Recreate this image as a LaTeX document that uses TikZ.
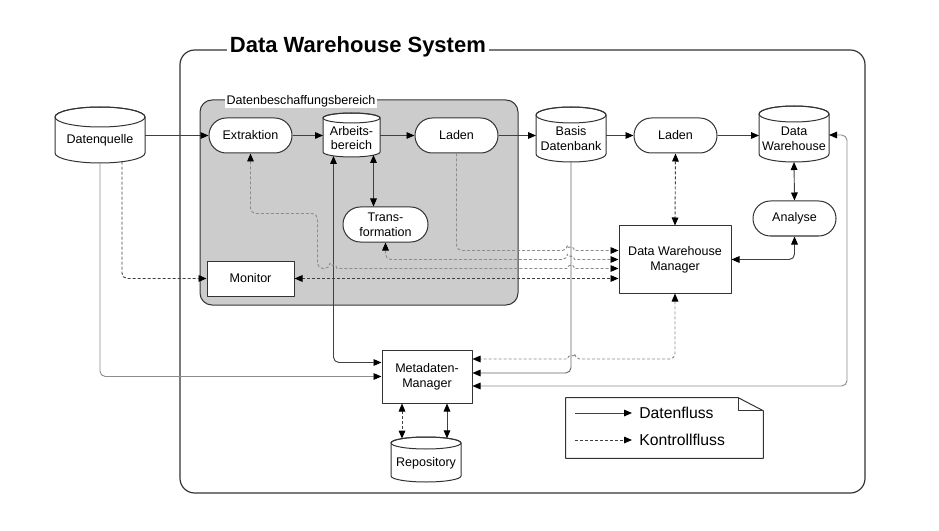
\documentclass[tikz,border=0pt]{standalone}
\usepackage{fontspec}
\setmainfont{Liberation Sans}
\usetikzlibrary{arrows.meta,calc}
\newcommand\ntext{\fontsize{9.4pt}{11pt}\selectfont}
\newcommand\ltext{\fontsize{11.8pt}{13pt}\selectfont}
\tikzset{
 nline/.style={draw=black!80, line width=0.75pt},
 pill/.style={nline, fill=white, rounded corners=13pt, minimum width=62.25pt, minimum height=26.25pt, inner sep=0pt, align=center, font=\ntext},
 box/.style={nline, fill=white, inner sep=0pt, align=center, font=\ntext},
 ctext/.style={inner sep=0pt, align=center, font=\ntext},
 dline/.style={draw=black!75, line width=0.7pt},
 mline/.style={draw=black!60, line width=0.7pt},
 lline/.style={draw=black!45, line width=0.7pt},
 ctl/.style={dash pattern=on 2.25pt off 1.5pt},
}
\newcommand\cylnode[7]{%
 \coordinate (#1-c) at (#2);
 \draw[nline,fill=white] ($(#1-c)+(-#3,#4+#6)$) -- ($(#1-c)+(-#3,#5-#6)$) arc[start angle=180,end angle=0,x radius=#3,y radius=#6] -- ($(#1-c)+(#3,#4+#6)$) arc[start angle=0,end angle=-180,x radius=#3,y radius=#6] -- cycle;
 \draw[nline] ($(#1-c)+(0,#4+#6)$) ellipse[x radius=#3,y radius=#6];
 \coordinate (#1-n) at ($(#1-c)+(0,#4)$);
 \coordinate (#1-s) at ($(#1-c)+(0,#5)$);
 \coordinate (#1-w) at ($(#1-c)+(-#3,0)$);
 \coordinate (#1-e) at ($(#1-c)+(#3,0)$);
 \node[ctext] (#1) at (#1-c) {#7};
}
\begin{document}
\begin{tikzpicture}[x=0.75pt,y=-0.75pt,>={Triangle[length=6pt,width=5pt,color=black]},line join=round]
\useasboundingbox (0,0) rectangle (939,531);
% system frame
\draw[nline, line width=0.9pt, rounded corners=11pt] (180,50) rectangle (865,493);
\node[fill=white, inner xsep=2pt, inner ysep=1pt, anchor=west, font=\fontsize{16.5pt}{18pt}\selectfont\bfseries] (title) at (227,47) {Data Warehouse System};
% acquisition area
\draw[nline, fill=black!20, rounded corners=9pt] (200,100) rectangle (518,305);
\node[fill=white, inner sep=1pt, anchor=west, font=\ntext] (glabel) at (225,101) {Datenbeschaffungsbereich};
% nodes
\cylnode{dq}{100,140}{45}{-33}{23}{10}{Datenquelle}
\node[pill] (ex) at (250.5,135.5) {Extraktion};
\cylnode{ab}{351.5,138}{28.5}{-25}{19}{5}{Arbeits-\\bereich}
\node[pill] (la) at (456.5,135.5) {Laden};
\cylnode{bd}{571,138.5}{35}{-31.5}{23.5}{8}{Basis\\Datenbank}
\node[pill] (lb) at (675.5,135.5) {Laden};
\cylnode{dw}{794,139}{35}{-33}{23}{8}{Data\\Warehouse}
\node[pill] (an) at (794.5,218.5) {Analyse};
\node[pill, minimum width=63.75pt] (tr) at (385.5,224.5) {Trans-\\formation};
\node[box, minimum width=84pt, minimum height=50.25pt] (dm) at (675,259.5) {Data Warehouse\\Manager};
\node[box, minimum width=65.25pt, minimum height=26.25pt] (mo) at (250.5,278.5) {Monitor};
\node[box, minimum width=67.5pt, minimum height=39.75pt] (mm) at (427,376.5) {Metadaten-\\Manager};
\cylnode{rp}{426,463}{35}{-26}{19}{6}{Repository}
% levels at the manager
\coordinate (y1) at ($(dm.west)+(0,-9)$);
\coordinate (y2) at (dm.west);
\coordinate (y3) at ($(dm.west)+(0,9)$);
% main data flow
\draw[dline,->] (ex.west -| dq-e) -- (ex.west);
\draw[dline,->] (ex.east) -- (ex.east -| ab-w);
\draw[dline,->] (la.west -| ab-e) -- (la.west);
\draw[dline,->] (la.east) -- (la.east -| bd-w);
\draw[dline,->] (lb.west -| bd-e) -- (lb.west);
\draw[dline,->] (lb.east) -- (lb.east -| dw-w);
\coordinate (abt) at ($(ab-s)+(22,-2)$);
\draw[dline,<->] (abt) -- (tr.north -| abt);
\draw[dline,<->] (dw-s) -- (an.north);
\draw[dline,ctl,<->] (lb.south) -- (dm.north);
\draw[dline,<->,rounded corners=4pt] (an.south) |- (dm.east);
% source connections
\coordinate (dqd) at ($(dq-s)+(22,-1.3)$);
\draw[dline,ctl,->,rounded corners=4pt] (dqd) |- (mo.west);
\draw[lline,->,rounded corners=4pt] (dq-s) |- (mm.west);
\coordinate (abm) at ($(ab-s)+(-18,-1)$);
\draw[dline,<->,rounded corners=4pt] (abm) |- ($(mm.west)+(0,-14)$);
\draw[dline,ctl,<->] (mo.east) -- (mo.east -| dm.west);
% control flows with hops
\draw[lline,ctl,->,rounded corners=4pt] (la.south) |- ($(y1 -| bd-s)+(-3.5,0)$) [sharp corners] arc[start angle=180,end angle=360,radius=3.5] -- (y1);
\draw[lline,ctl,<->,rounded corners=4pt] (tr.south) |- ($(y2 -| bd-s)+(-3.5,0)$) [sharp corners] arc[start angle=180,end angle=360,radius=3.5] -- (y2);
\draw[lline,ctl,<->,rounded corners=4pt] (ex.south) |- ($(ex.south)+(67,60)$) |- ($(y3 -| abm)+(-3.5,0)$) [sharp corners] arc[start angle=180,end angle=360,radius=3.5] -- ($(y3 -| bd-s)+(-3.5,0)$) arc[start angle=180,end angle=360,radius=3.5] -- (y3);
\coordinate (ymm) at ($(mm.east)+(0,-17.5)$);
\draw[lline,ctl,<->,rounded corners=4pt] (dm.south) |- ($(ymm -| bd-s)+(3.5,0)$) [sharp corners] arc[start angle=0,end angle=-180,radius=3.5] -- (ymm);
\draw[mline,->,rounded corners=4pt] (bd-s) |- ($(mm.east)+(0,-3.5)$);
\coordinate (dwe) at ($(dw-e)+(0,-4)$);
\draw[lline,<->,rounded corners=4pt] ($(mm.east)+(0,9.5)$) -| ($(dwe)+(18,0)$) -- (dwe);
% repository
\coordinate (rpd) at ($(mm.south)+(-25,0)$);
\draw[dline,ctl,<->] (rpd) -- ($(rpd |- rp-n)+(0,1.6)$);
\coordinate (rps) at ($(mm.south)+(20,0)$);
\draw[dline,<->] (rps) -- ($(rps |- rp-n)+(0,1.3)$);
% legend
\node[inner sep=0pt, minimum width=147.75pt, minimum height=45pt] (lg) at (664.5,428) {};
\draw[nline, fill=white] (lg.south west) -- (lg.north west) -- ($(lg.north east)+(-25,0)$) -- ($(lg.north east)+(0,13)$) -- (lg.south east) -- cycle;
\draw[nline] ($(lg.north east)+(-25,0)$) |- ($(lg.north east)+(0,13)$);
\coordinate (la1) at (575,413);
\coordinate (lb1) at (632,413);
\draw[dline,->] (la1) -- (lb1);
\node[anchor=west, inner sep=0pt, font=\ltext] (lt1) at (639,413) {Datenfluss};
\coordinate (la2) at (575,440);
\coordinate (lb2) at (632,440);
\draw[dline,ctl,->] (la2) -- (lb2);
\node[anchor=west, inner sep=0pt, font=\ltext] (lt2) at (639,440) {Kontrollfluss};
\end{tikzpicture}
\end{document}
